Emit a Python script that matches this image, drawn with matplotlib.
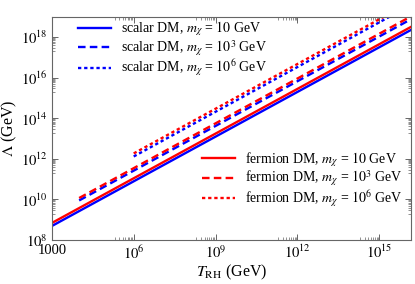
import numpy as np
import matplotlib.pyplot as plt

plt.rcParams['font.family'] = ['Liberation Serif', 'DejaVu Serif']
plt.rcParams['mathtext.fontset'] = 'stix'

# endpoints of each (straight, log-log) line: T_RH in GeV, Lambda in GeV
t_start = {'10': 1e3, '1e3': 1e4, '1e6': 1e6}
t_end = 1.45e16
scalar_lam_start = {'10': 10**8.69, '1e3': 10**9.95, '1e6': 10**12.12}
scalar_lam_end = {'10': 10**18.36, '1e3': 10**18.89, '1e6': 10**19.59}
fermion_lam_start = {'10': 10**8.84, '1e3': 10**10.07, '1e6': 10**12.27}
fermion_lam_end = {'10': 10**18.51, '1e3': 10**19.03, '1e6': 10**19.74}

masses = ['10', '1e3', '1e6']
mass_labels = ['10', '10^3', '10^6']

x_major = [1e3, 1e6, 1e9, 1e12, 1e15]
x_labels = ['1000', r'$10^{6}$', r'$10^{9}$', r'$10^{12}$', r'$10^{15}$']
y_major = [1e8, 1e10, 1e12, 1e14, 1e16, 1e18]
y_labels = [r'$10^{8}$', r'$10^{10}$', r'$10^{12}$', r'$10^{14}$', r'$10^{16}$', r'$10^{18}$']

styles = {'10': dict(linestyle='-'),
          '1e3': dict(linestyle=(0, (3.2, 1.8))),
          '1e6': dict(linestyle=(0, (1.4, 1.2)))}

fig = plt.figure(figsize=(4.15, 2.84), dpi=100)
ax = fig.add_axes([0.125, 0.155, 0.865, 0.785])

lw = 1.7
scalar_handles = []
fermion_handles = []
for m, ml in zip(masses, mass_labels):
    h, = ax.plot([t_start[m], t_end], [scalar_lam_start[m], scalar_lam_end[m]],
                 color='blue', lw=lw, **styles[m],
                 label=r'scalar DM, $m_\chi$ = $%s$ GeV' % ml)
    scalar_handles.append(h)
for m, ml in zip(masses, mass_labels):
    h, = ax.plot([t_start[m], t_end], [fermion_lam_start[m], fermion_lam_end[m]],
                 color='red', lw=lw, **styles[m],
                 label=r'fermion DM, $m_\chi$ = $%s$ GeV' % ml)
    fermion_handles.append(h)

ax.set_xscale('log')
ax.set_yscale('log')
ax.set_xlim(1e3, t_end)
ax.set_ylim(1e8, 1e19)

ax.set_xticks(x_major)
ax.set_xticklabels(x_labels)
ax.set_yticks(y_major)
ax.set_yticklabels(y_labels)
xminor = [j * 10.0**(n - 1) for n in range(3, 17, 3) for j in range(2, 10)]
yminor = [j * 10.0**(n - 1) for n in range(8, 19, 2) for j in range(2, 10)]
ax.set_xticks([v for v in xminor if 1e3 < v < t_end], minor=True)
ax.set_yticks([v for v in yminor if 1e8 < v < 1e19], minor=True)
ax.tick_params(which='both', direction='in', top=True, right=True, labelsize=10.5,
               color='#666666', pad=3)
ax.tick_params(which='major', length=4, width=0.7)
ax.tick_params(which='minor', length=2, width=0.5)
for sp in ax.spines.values():
    sp.set_color('#666666')
    sp.set_linewidth(0.8)

ax.set_xlabel(r'$T_{\mathrm{RH}}$ (GeV)', fontsize=11.5, labelpad=1)
ax.set_ylabel(r'$\Lambda$ (GeV)', fontsize=11.5, labelpad=1)

leg1 = ax.legend(handles=scalar_handles, loc='upper left', bbox_to_anchor=(0.05, 1.025),
                 frameon=False, fontsize=10, handlelength=2.4, handletextpad=0.7,
                 labelspacing=0.0, borderaxespad=0.2)
ax.add_artist(leg1)
ax.legend(handles=fermion_handles, loc='upper left', bbox_to_anchor=(0.395, 0.44),
          frameon=False, fontsize=10, handlelength=2.4, handletextpad=0.7,
          labelspacing=0.0, borderaxespad=0.2)

fig.savefig('out.png', dpi=100)
